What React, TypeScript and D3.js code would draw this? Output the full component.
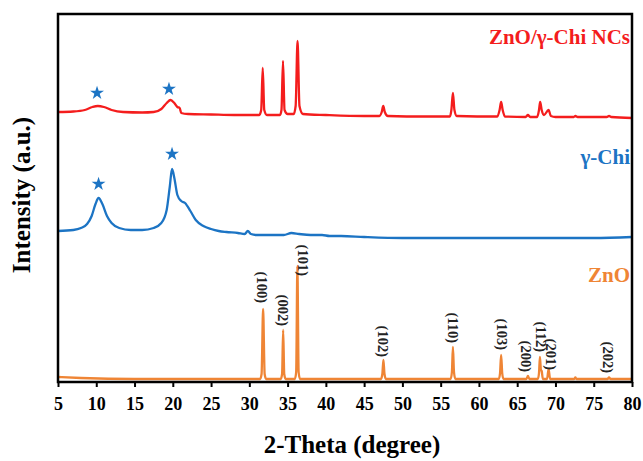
import React, { useEffect, useRef } from "react";
import * as d3 from "d3";

// 2-Theta ticks
const xTicks = [5, 10, 15, 20, 25, 30, 35, 40, 45, 50, 55, 60, 65, 70, 75, 80];

// ZnO pattern (2θ, intensity a.u., offset included)
const zno: [number, number][] = [
  [5, 5], [8, 4], [15, 3], [31.4, 3], [31.6, 8], [31.8, 73], [32.0, 8], [32.2, 3],
  [34.1, 3], [34.28, 8], [34.42, 52], [34.56, 8], [34.75, 3],
  [35.95, 3], [36.12, 10], [36.28, 116], [36.44, 10], [36.62, 3],
  [47.2, 3], [47.38, 8], [47.52, 22], [47.66, 8], [47.85, 3],
  [56.3, 3], [56.47, 10], [56.6, 35], [56.74, 10], [56.92, 3],
  [62.6, 3], [62.76, 9], [62.9, 27], [63.04, 9], [63.2, 3],
  [66.2, 3], [66.4, 6], [66.6, 3],
  [67.7, 3], [67.85, 9], [67.97, 25], [68.1, 12], [68.2, 11], [68.35, 3],
  [68.9, 3], [69.1, 13], [69.3, 3],
  [72.45, 3], [72.6, 4.5], [72.75, 3],
  [76.8, 3], [77.0, 4.5], [77.2, 3], [80, 3],
];

// γ-Chi pattern
const chi: [number, number][] = [
  [5, 151], [7, 152], [8, 154], [8.8, 158], [9.4, 166], [9.9, 178], [10.3, 184],
  [10.8, 178], [11.4, 166], [12, 159], [13, 154], [14.5, 152], [16, 152],
  [17.5, 154], [18.5, 159], [19.2, 172], [19.6, 195], [19.9, 213], [20.2, 204],
  [20.6, 187], [21.1, 181], [21.6, 179], [22.3, 171], [23, 162], [24, 156],
  [25, 153], [26, 151], [27, 150], [28.5, 149], [29.4, 148], [29.8, 151],
  [30.2, 148], [31, 147], [33, 147], [34.5, 147], [35.5, 149], [36.5, 148],
  [38, 147], [39.5, 147], [40.5, 146], [42, 146], [45, 145], [50, 144],
  [55, 144], [60, 144], [65, 144], [70, 144], [75, 144], [80, 145],
];

// ZnO/γ-Chi NCs pattern
const ncs: [number, number][] = [
  [5, 270], [7, 270.5], [8.5, 272], [9.5, 275], [10.2, 276], [11, 275], [12, 272],
  [13.5, 270], [16, 269.5], [17.5, 270], [18.5, 273], [19.2, 279], [19.7, 282],
  [20.2, 279], [20.6, 275], [20.9, 274], [21.1, 269], [22, 268], [25, 267.5],
  [28, 267], [31.3, 267], [31.55, 272], [31.75, 314], [31.95, 272], [32.3, 267],
  [34.0, 267], [34.2, 272], [34.4, 321], [34.6, 272], [35.0, 268], [35.8, 268],
  [36.05, 276], [36.3, 341], [36.55, 276], [37, 268], [40, 267], [45, 266],
  [47.0, 266], [47.3, 270], [47.5, 276], [47.7, 270], [48.1, 266], [53, 265.5],
  [56.2, 265.5], [56.4, 272], [56.6, 289], [56.8, 272], [57.1, 266],
  [62.4, 265.5], [62.7, 272], [62.9, 280], [63.1, 272], [63.4, 265.5],
  [66.1, 265], [66.4, 267], [66.7, 265], [67.6, 265], [67.85, 272], [68.0, 280],
  [68.2, 272], [68.5, 267], [69.1, 272], [69.4, 266], [70, 265], [72.4, 265],
  [72.6, 266], [72.9, 265], [76.7, 265], [77.0, 266], [77.3, 265], [80, 264],
];

// hkl labels for ZnO: 2θ position of label, label bottom intensity
const hklNames = ["(100)", "(002)", "(101)", "(102)", "(110)", "(103)", "(200)", "(112)", "(201)", "(202)"];
const hklPos = [31.7, 34.35, 37.0, 47.5, 56.6, 63.0, 66.1, 68.1, 69.4, 76.9];
const hklBottom = [79, 56, 106, 25, 39, 32, 10, 30, 12, 9];

// star markers: [2θ, intensity]
const stars: [number, number][] = [[10.1, 289], [19.5, 293], [10.3, 198], [19.9, 228]];

const seriesNames = ["ZnO/γ-Chi NCs", "γ-Chi", "ZnO"];
const seriesColors = ["#f41d1d", "#1c74c4", "#ef8535"];
const seriesLabelY = [345, 225, 107];

export default function App() {
  const ref = useRef<SVGSVGElement>(null);
  useEffect(() => {
    const svg = d3.select(ref.current);
    svg.selectAll("*").remove();
    const L = 58, R = 632, T = 14, B = 382;
    const x = d3.scaleLinear().domain([5, 80]).range([L, R]);
    const y = d3.scaleLinear().domain([0, 368]).range([B, T]);
    const font = "'Liberation Serif', 'Times New Roman', serif";

    const line = d3.line<[number, number]>()
      .x(d => x(d[0])).y(d => y(d[1])).curve(d3.curveMonotoneX);

    const data = [ncs, chi, zno];
    data.forEach((s, i) => {
      svg.append("path").attr("d", line(s)!).attr("fill", "none")
        .attr("stroke", seriesColors[i]).attr("stroke-width", 2.3)
        .attr("stroke-linejoin", "round");
    });

    // stars
    const star = d3.symbol().type(d3.symbolStar).size(60);
    stars.forEach(s => {
      svg.append("path").attr("d", star()!)
        .attr("transform", `translate(${x(s[0])},${y(s[1])})`)
        .attr("fill", "#1c74c4");
    });

    // hkl labels
    hklNames.forEach((n, i) => {
      const px = x(hklPos[i]), py = y(hklBottom[i]);
      svg.append("text").text(n)
        .attr("transform", `translate(${px},${py}) rotate(90)`)
        .attr("text-anchor", "end").attr("dy", "0.35em")
        .attr("font-family", font).attr("font-weight", "bold").attr("font-size", 14.5)
        .attr("fill", "#222");
    });

    // series labels
    seriesNames.forEach((n, i) => {
      svg.append("text").text(n).attr("x", 630).attr("y", y(seriesLabelY[i]))
        .attr("text-anchor", "end").attr("dy", "0.35em")
        .attr("font-family", font).attr("font-weight", "bold").attr("font-size", 21)
        .attr("fill", seriesColors[i]);
    });

    // frame
    svg.append("rect").attr("x", L).attr("y", T).attr("width", R - L).attr("height", B - T)
      .attr("fill", "none").attr("stroke", "#000").attr("stroke-width", 2.5);

    // x axis
    const ax = svg.append("g").attr("transform", `translate(0,${B})`)
      .call(d3.axisBottom(x).tickValues(xTicks).tickSize(5).tickSizeOuter(0).tickPadding(10).tickFormat(d3.format("d")));
    ax.select(".domain").remove();
    ax.selectAll("line").attr("stroke", "#000").attr("stroke-width", 2);
    ax.selectAll("text").attr("font-family", font).attr("font-weight", "bold")
      .attr("font-size", 18).attr("fill", "#000");

    svg.append("text").text("2-Theta (degree)").attr("x", 352).attr("y", 453)
      .attr("text-anchor", "middle").attr("font-family", font).attr("font-weight", "bold")
      .attr("font-size", 25).attr("fill", "#000");

    svg.append("text").text("Intensity (a.u.)")
      .attr("transform", `translate(30,195) rotate(-90)`)
      .attr("text-anchor", "middle").attr("font-family", font).attr("font-weight", "bold")
      .attr("font-size", 25).attr("fill", "#000");
  }, []);
  return (
    <svg ref={ref} width={643} height={461}
      style={{ position: "absolute", left: 0, top: 0, background: "#fff" }} />
  );
}
